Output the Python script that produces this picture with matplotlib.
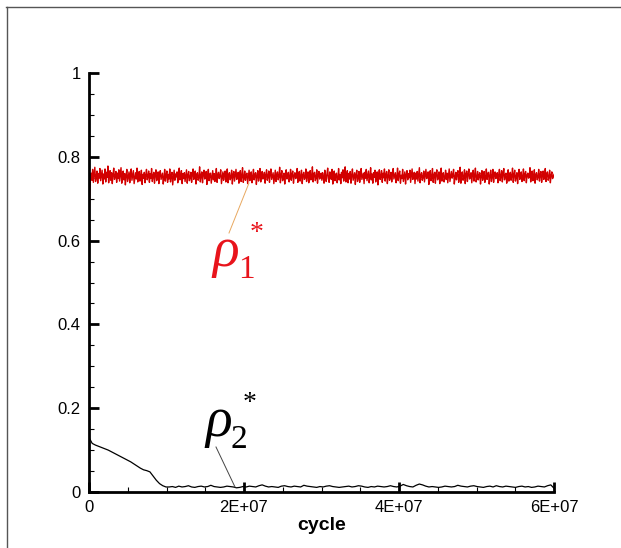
import matplotlib
matplotlib.use("Agg")
import matplotlib.pyplot as plt
from matplotlib.lines import Line2D
import numpy as np

# rho_1* (red), values in thousandths
rho1_milli = [
    650, 712, 748, 761, 744, 770, 739, 758, 775, 741, 752, 766, 737, 760, 749, 772, 743, 756, 768, 735,
    759, 747, 771, 740, 763, 751, 778, 738, 755, 767, 744, 762, 736, 757, 773, 746, 753, 765, 739, 761,
    748, 769, 742, 758, 774, 737, 754, 766, 745, 760, 733, 756, 770, 741, 752, 764, 738, 759, 771, 744,
    755, 767, 736, 750, 762, 747, 773, 740, 757, 765, 742, 753, 768, 734, 758, 749, 763, 738, 756, 770,
    745, 752, 766, 739, 760, 748, 772, 741, 754, 763, 737, 757, 769, 743, 751, 764, 736, 758, 767, 746,
    753, 761, 735, 749, 770, 742, 756, 766, 739, 758, 747, 771, 740, 755, 763, 733, 750, 768, 744, 759,
    752, 764, 738, 757, 773, 745, 751, 767, 736, 760, 748, 762, 741, 754, 769, 737, 756, 765, 743, 750,
    763, 739, 758, 771, 746, 753, 766, 735, 757, 762, 744, 750, 776, 740, 755, 764, 738, 759, 768, 747,
    751, 765, 734, 756, 770, 743, 758, 761, 737, 752, 767, 745, 760, 741, 754, 772, 739, 757, 763, 748,
    755, 769, 736, 750, 764, 744, 759, 766, 740, 753, 771, 738, 756, 762, 745, 751, 768, 735, 758, 765,
    742, 757, 770, 746, 752, 763, 737, 759, 767, 741, 754, 774, 739, 750, 766, 744, 757, 761, 736, 753,
    768, 743, 756, 764, 738, 751, 770, 745, 758, 762, 734, 755, 767, 742, 753, 772, 740, 757, 765, 747,
    750, 763, 737, 756, 769, 744, 752, 766, 739, 759, 771, 746, 754, 762, 736, 751, 768, 741, 757, 764,
    745, 753, 775, 738, 756, 767, 743, 750, 761, 735, 758, 769, 747, 754, 763, 740, 752, 770, 744, 759,
    766, 737, 755, 762, 748, 751, 772, 739, 757, 765, 742, 753, 768, 736, 756, 763, 746, 750, 771, 741,
    758, 764, 738, 754, 767, 745, 752, 776, 740, 759, 763, 743, 750, 769, 737, 756, 765, 747, 753, 761,
    744, 762, 751, 737, 768, 756, 741, 759, 773, 748, 739, 764, 752, 746, 770, 735, 757, 766, 743, 754,
    761, 738, 749, 772, 745, 758, 736, 763, 750, 769, 742, 755, 776, 740, 752, 767, 738, 760, 747, 765,
    737, 756, 771, 744, 753, 762, 734, 758, 768, 741, 750, 765, 739, 757, 772, 746, 754, 761, 736, 763,
    749, 770, 743, 755, 766, 738, 752, 774, 745, 759, 737, 762, 751, 768, 740, 756, 764, 733, 758, 769,
    746, 753, 767, 739, 761, 750, 771, 742, 757, 765, 736, 754, 769, 744, 752, 763, 740, 758, 772, 747,
    755, 762, 738, 751, 773, 743, 759, 766, 737, 756, 748, 770, 741, 753, 764, 735, 757, 767, 745, 760,
    750, 768, 739, 754, 771, 746, 752, 763, 736, 761, 747, 765, 742, 757, 774, 738, 755, 762, 744, 751,
    766, 740, 756, 770, 748, 753, 764, 734, 759, 767, 743, 751, 772, 739, 756, 763, 737, 760, 769, 745,
    752, 764, 736, 757, 773, 742, 758, 762, 740, 750, 768, 746, 761, 738, 755, 771, 741, 754, 765, 749,
    756, 770, 735, 751, 763, 745, 760, 767, 739, 752, 775, 737, 757, 764, 744, 750, 769, 736, 759, 766,
    741, 758, 771, 747, 753, 762, 738, 760, 768, 742, 755, 773, 740, 749, 765, 745, 756, 762, 735, 754,
    767, 744, 757, 765, 739, 750, 771, 746, 759, 763, 735, 754, 768, 741, 752, 770, 739, 758, 764, 748,
    751, 762, 738, 757, 770, 743, 753, 767, 740, 760, 772, 745, 755, 761, 737, 750, 769, 742, 756, 763,
    744, 754, 773, 739, 757, 768, 742, 751, 762, 736, 759, 770, 746, 753, 764, 741, 751, 771, 743, 758,
    765, 738, 756, 761, 749, 752, 774, 740, 756, 766, 743, 752, 769, 737, 757, 762, 745, 751, 770, 742,
    757, 765, 739, 755, 766, 746, 751, 772, 741, 758, 764, 744, 751, 768, 738, 755, 764, 748, 752, 758,
]

# rho_2* (black), values in thousandths
rho2_milli = [
    130, 116, 112, 109, 106, 103, 100, 96, 92, 88,
    84, 80, 76, 72, 67, 62, 57, 53, 51, 48,
    38, 28, 20, 15, 12,
    12, 13, 11, 14, 12, 13, 15, 12, 11, 13, 14, 12, 13, 16, 13, 12, 11, 12, 14, 13,
    12, 10, 11, 13, 12, 14, 13, 12, 15, 17, 14, 12, 13, 12, 11, 14, 15, 13, 12, 14,
    13, 12, 16, 14, 13, 12, 11, 13, 12, 14, 15, 13, 12, 11, 12, 13, 14, 12, 13, 15,
    14, 12, 11, 13, 12, 14, 13, 12, 13, 15, 13, 12, 14, 18, 15, 13, 12, 16, 19, 17,
    14, 12, 13, 12, 11, 12, 14, 13, 12, 13, 16, 14, 13, 12, 14, 15, 13, 12, 11, 13,
    14, 12, 15, 13, 12, 14, 13, 12, 11, 13, 14, 12, 13, 11, 12, 14, 13, 12, 15, 17, 9,
]

x_max = 6e7
xticks = [0, 2e7, 4e7, 6e7]
xtick_labels = ["0", "2E+07", "4E+07", "6E+07"]
yticks = [0, 0.2, 0.4, 0.6, 0.8, 1.0]
ytick_labels = ["0", "0.2", "0.4", "0.6", "0.8", "1"]

rho1 = np.array(rho1_milli) / 1000
rho2 = np.array(rho2_milli) / 1000
x1 = np.linspace(0, x_max, len(rho1))
x2 = np.linspace(0, x_max, len(rho2))

plt.rcParams["font.family"] = ["Liberation Sans", "DejaVu Sans"]

fig = plt.figure(figsize=(6.21, 5.48), dpi=100)
ax = fig.add_axes([89 / 621, 1 - 492 / 548, 465 / 621, 419 / 548])

ax.plot(x1, rho1, color="#d20000", lw=1.0)
ax.plot(x2, rho2, color="black", lw=0.9)

ax.set_xlim(0, x_max)
ax.set_ylim(0, 1)
ax.spines["top"].set_visible(False)
ax.spines["right"].set_visible(False)
ax.spines["left"].set_linewidth(2)
ax.spines["bottom"].set_linewidth(2)

ax.set_xticks(xticks)
ax.set_xticklabels(xtick_labels)
ax.set_yticks(yticks)
ax.set_yticklabels(ytick_labels)
ax.set_xticks(np.arange(0, x_max + 1, 5e6), minor=True)
ax.set_yticks(np.arange(0, 1.001, 0.05), minor=True)
ax.tick_params(which="major", direction="in", length=7, width=2, labelsize=12, pad=6)
ax.tick_params(which="minor", direction="in", length=3.5, width=0.8)
ax.set_xlabel("cycle", fontsize=14, fontweight="bold", labelpad=1)

# labels rho_1*, rho_2*
serif = ["Liberation Serif", "DejaVu Serif"]

def to_data(px, py):
    return (px - 89) / 465 * x_max, (492 - py) / 419

def label(px, py, sub, color, lead_from, lead_to, lead_color):
    # px, py: centre / baseline of rho in picture pixels
    ax.text(*to_data(px, py), "\u03c1", fontsize=40, style="italic", family=serif,
            color=color, ha="center", va="baseline")
    ax.text(*to_data(px + 20, py + 12), sub, fontsize=24, family=serif,
            color=color, ha="center", va="baseline")
    ax.text(*to_data(px + 31, py - 33), "*", fontsize=20, family=serif,
            color=color, ha="center", va="center")
    a = to_data(*lead_from)
    b = to_data(*lead_to)
    ax.plot([a[0], b[0]], [a[1], b[1]], color=lead_color, lw=0.7, clip_on=False)

label(226, 266, "1", "#e8141c", (229, 233), (249, 183), "#e8a860")
label(219, 436, "2", "black", (216, 447), (235, 487), "#444444")

# frame around the figure
fig.add_artist(Line2D([6, 621], [548 - 7, 548 - 7], transform=None, color="#555555", lw=1))
fig.add_artist(Line2D([7, 7], [0, 548 - 7], transform=None, color="#555555", lw=1))

fig.savefig("out.png", dpi=100)
